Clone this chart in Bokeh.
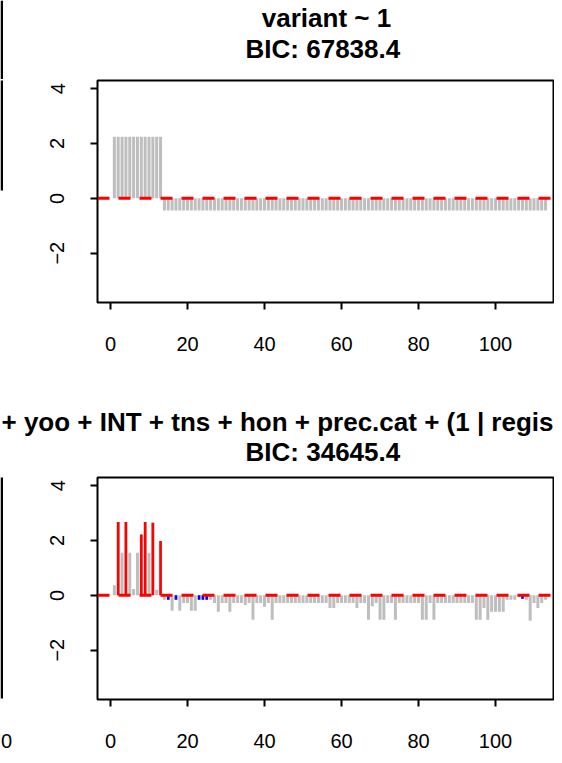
from bokeh.plotting import figure
from bokeh.models import Range1d, FixedTicker, Span, ColumnDataSource
from bokeh.core.properties import value
from bokeh.layouts import column, row
from bokeh.embed import file_html
from bokeh.resources import INLINE

# ---------------- data ----------------
obs = list(range(1, 114))

top_title = "variant ~ 1"
top_bic = "BIC:  67838.4"
top_resid = [2.25, 2.25, 2.25, 2.25, 2.25, 2.25, 2.25, 2.25, 2.25, 2.25, 2.25, 2.25, 2.25,
             -0.44, -0.44, -0.44, -0.44, -0.44, -0.44, -0.44, -0.44, -0.44, -0.44,
             -0.44, -0.44, -0.44, -0.44, -0.44, -0.44, -0.44, -0.44, -0.44, -0.44,
             -0.44, -0.44, -0.44, -0.44, -0.44, -0.44, -0.44, -0.44, -0.44, -0.44,
             -0.44, -0.44, -0.44, -0.44, -0.44, -0.44, -0.44, -0.44, -0.44, -0.44,
             -0.44, -0.44, -0.44, -0.44, -0.44, -0.44, -0.44, -0.44, -0.44, -0.44,
             -0.44, -0.44, -0.44, -0.44, -0.44, -0.44, -0.44, -0.44, -0.44, -0.44,
             -0.44, -0.44, -0.44, -0.44, -0.44, -0.44, -0.44, -0.44, -0.44, -0.44,
             -0.44, -0.44, -0.44, -0.44, -0.44, -0.44, -0.44, -0.44, -0.44, -0.44,
             -0.44, -0.44, -0.44, -0.44, -0.44, -0.44, -0.44, -0.44, -0.44, -0.44,
             -0.44, -0.44, -0.44, -0.44, -0.44, -0.44, -0.44, -0.44, -0.44, -0.44]

bottom_title = "+ yoo + INT + tns + hon + prec.cat + (1 | regis"
bottom_bic = "BIC:  34645.4"
bottom_resid = [0.37, 2.68, 1.55, 2.68, 1.55, 0.23, 1.55, 2.22, 2.68, 1.55,
                2.65, 0.20, 1.98, -0.16, -0.16, -0.56, -0.16, -0.56, -0.28, -0.28,
                -0.56, -0.56, -0.16, -0.16, -0.16, -0.16, -0.28, -0.60, -0.28, -0.28,
                -0.60, -0.28, -0.28, -0.28, -0.35, -0.28, -0.89, -0.28, -0.28, -0.42,
                -0.28, -0.89, -0.28, -0.28, -0.28, -0.28, -0.28, -0.28, -0.28, -0.28,
                -0.28, -0.28, -0.28, -0.28, -0.28, -0.28, -0.46, -0.46, -0.28, -0.28,
                -0.28, -0.28, -0.28, -0.46, -0.28, -0.28, -0.89, -0.40, -0.28, -0.89,
                -0.89, -0.28, -0.28, -0.89, -0.28, -0.28, -0.28, -0.28, -0.28, -0.28,
                -0.89, -0.89, -0.28, -0.89, -0.28, -0.28, -0.28, -0.28, -0.28, -0.28,
                -0.28, -0.28, -0.28, -0.28, -0.89, -0.89, -0.46, -0.89, -0.60, -0.60,
                -0.60, -0.60, -0.16, -0.16, -0.16, -0.05, -0.12, -0.16, -0.93, -0.28,
                -0.46, -0.28, -0.16]

red_obs = [2, 4, 8, 9, 11, 13]
red_vals = [2.68, 2.68, 2.22, 2.68, 2.65, 1.98]

blue_obs = [15, 17, 23, 24, 25, 107]
blue_vals = [-0.16, -0.16, -0.16, -0.16, -0.16, -0.12]

x_ticks = [0, 20, 40, 60, 80, 100]
y_ticks = [-2, 0, 2, 4]
y_tick_labels = {-2: "\u22122", 0: "0", 2: "2", 4: "4"}
left_panel_tick = "0"   # visible end of the neighbouring panel's last x label

GRAY = "#BEBEBE"
TICK_FONT = "Liberation Sans"
TITLE_FONT = "Liberation Sans"
W = 554
STRIP_W = 14
PANEL_W = W - STRIP_W
FRAME_H = 222
TITLE_H = 79


def blank(width, height, y_max=None):
    f = figure(width=width, height=height, x_range=Range1d(0, width),
               y_range=Range1d(0, height if y_max is None else y_max),
               output_backend="svg", toolbar_location=None,
               x_axis_type=None, y_axis_type=None,
               min_border_left=0, min_border_right=0, min_border_top=0, min_border_bottom=0)
    f.grid.visible = False
    f.outline_line_color = None
    f.background_fill_color = "white"
    f.border_fill_color = "white"
    return f


def title_block(line1, line1_left, y1, line2, y2, edge_line):
    f = blank(W, TITLE_H)
    if edge_line:
        f.quad(left=[0], right=[2.5], top=[TITLE_H], bottom=[0], fill_color="black", line_color=None)
    kw = dict(text_baseline="middle", text_font=value(TITLE_FONT), text_font_size="26px",
              text_font_style="bold", text_color="black")
    if line1_left:
        f.text(x=[1], y=[y1], text=[line1], text_align="left", **kw)
    else:
        f.text(x=[326], y=[y1], text=[line1], text_align="center", **kw)
    f.text(x=[326], y=[y2], text=[line2], text_align="center", **kw)
    return f


def style_axis(ax):
    ax.axis_line_color = None
    ax.major_tick_line_color = "black"
    ax.major_tick_line_width = 2
    ax.major_tick_out = 7
    ax.major_tick_in = 0
    ax.minor_tick_line_color = None
    ax.major_label_text_font = TICK_FONT
    ax.major_label_text_font_size = "20px"
    ax.major_label_text_color = "black"


def make_panel(height, bottom_border, resid, red=None, blue=None):
    p = figure(width=PANEL_W, height=height,
               x_range=Range1d(-3.38, 115.06), y_range=Range1d(-3.8, 4.3),
               output_backend="svg", toolbar_location=None,
               min_border_left=83, min_border_right=1,
               min_border_top=1, min_border_bottom=bottom_border)
    p.grid.visible = False
    p.background_fill_color = "white"
    p.border_fill_color = "white"
    p.outline_line_color = "black"
    p.outline_line_width = 2
    p.outline_line_alpha = 1.0

    style_axis(p.xaxis[0])
    style_axis(p.yaxis[0])
    p.xaxis.ticker = FixedTicker(ticks=x_ticks)
    p.yaxis.ticker = FixedTicker(ticks=y_ticks)
    p.yaxis.major_label_overrides = y_tick_labels
    p.yaxis.major_label_orientation = "vertical"
    p.xaxis.major_label_standoff = 27
    p.yaxis.major_label_standoff = 26

    src = ColumnDataSource(dict(x=obs, y0=[0] * len(obs), y1=resid))
    p.segment(x0="x", y0="y0", x1="x", y1="y1", source=src,
              line_color=GRAY, line_width=3, line_cap="butt")
    if red is not None:
        rs = ColumnDataSource(dict(x=red[0], y0=[0] * len(red[0]), y1=red[1]))
        p.segment(x0="x", y0="y0", x1="x", y1="y1", source=rs,
                  line_color="#FF0000", line_width=2.6, line_cap="butt")
    if blue is not None:
        bs = ColumnDataSource(dict(x=blue[0], y0=[0] * len(blue[0]), y1=blue[1]))
        p.segment(x0="x", y0="y0", x1="x", y1="y1", source=bs,
                  line_color="#0000FF", line_width=2.6, line_cap="butt")

    p.add_layout(Span(location=0, dimension="width", line_color="#FF0000",
                      line_width=3, line_dash="12 9"))
    return p


def make_strip(height, top_y, bottom_y, tick_text=None):
    # the strip's frame is aligned by the row layout with the panel's frame (FRAME_H px)
    if tick_text is None:
        s = blank(STRIP_W, height, y_max=FRAME_H)
    else:
        s = figure(width=STRIP_W, height=height, x_range=Range1d(0, STRIP_W),
                   y_range=Range1d(0, FRAME_H), output_backend="svg", toolbar_location=None,
                   y_axis_type=None,
                   min_border_left=0, min_border_right=0, min_border_top=0, min_border_bottom=0)
        s.grid.visible = False
        s.outline_line_color = None
        s.background_fill_color = "white"
        s.border_fill_color = "white"
        ax = s.xaxis[0]
        style_axis(ax)
        ax.major_tick_line_color = None
        ax.ticker = FixedTicker(ticks=[6])
        ax.major_label_overrides = {6: tick_text}
        ax.major_label_standoff = 27
    s.quad(left=[0], right=[2.5], top=[top_y], bottom=[bottom_y],
           fill_color="black", line_color=None)
    return s


# top section: title (0..79), panel row (79..397)
t_top = title_block(top_title, False, 62, top_bic, 31, True)
p_top = make_panel(318, 95, top_resid)
s_top = make_strip(318, FRAME_H + 2, 112)

# bottom section: title (397..476), panel row (476..755)
t_bot = title_block(bottom_title, True, 55, bottom_bic, 25, False)
p_bot = make_panel(279, 56, bottom_resid, red=(red_obs, red_vals), blue=(blue_obs, blue_vals))
s_bot = make_strip(279, FRAME_H + 2, 1, left_panel_tick)

layout = column(t_top, row(s_top, p_top, spacing=0),
                t_bot, row(s_bot, p_bot, spacing=0), spacing=0)

open("out.html", "w").write(file_html(layout, INLINE))
